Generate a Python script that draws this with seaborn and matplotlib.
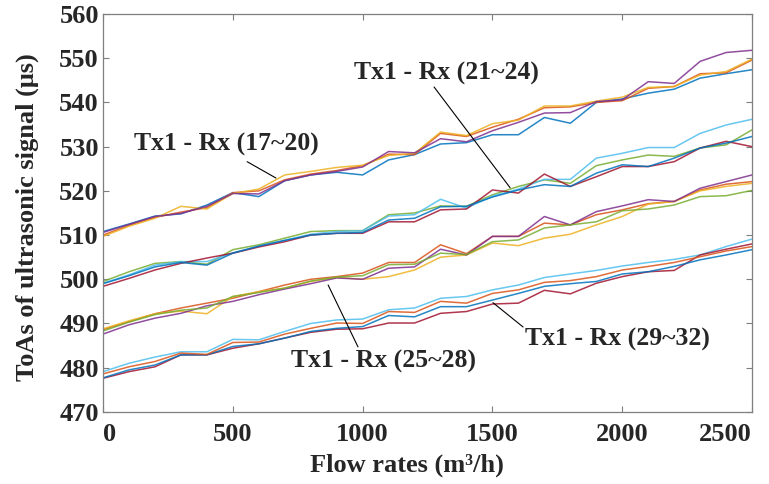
import numpy as np
import pandas as pd
import seaborn as sns
import matplotlib
matplotlib.use("Agg")
import matplotlib.pyplot as plt

# flow rates (m3/h)
flow = list(range(0, 2600, 100))

# Tx1 - Rx (17~20)
rx17 = [510.8, 512.5, 514.3, 514.8, 516.8, 519.6, 518.7, 522.3, 523.6, 524.2, 523.6, 527.0, 528.2,
        530.6, 530.9, 532.7, 532.7, 536.6, 535.3, 540.0, 540.8, 542.1, 543.0, 545.5, 546.5, 547.4]
rx18 = [510.0, 512.2, 514.0, 515.2, 516.2, 519.6, 520.0, 522.5, 523.8, 524.6, 525.7, 528.3, 528.2,
        533.0, 532.3, 534.4, 536.2, 538.8, 539.0, 540.0, 540.4, 543.2, 543.6, 546.5, 546.7, 549.6]
rx19 = [509.7, 512.0, 513.8, 516.5, 515.9, 519.4, 520.4, 523.6, 524.4, 525.3, 525.8, 528.0, 528.5,
        533.3, 532.5, 535.2, 536.0, 539.2, 539.2, 540.3, 541.2, 543.4, 543.6, 546.2, 547.0, 549.8]
rx20 = [510.6, 512.4, 514.2, 514.9, 516.5, 519.4, 519.3, 522.3, 523.6, 524.4, 525.4, 528.9, 528.6,
        531.8, 531.1, 533.6, 535.5, 537.6, 537.7, 540.2, 540.6, 544.7, 544.3, 549.3, 551.3, 551.8]

# Tx1 - Rx (21~24)
rx21 = [499.5, 501.7, 503.6, 504.0, 503.4, 506.7, 507.8, 509.3, 510.8, 511.0, 511.0, 514.6, 515.0,
        516.6, 516.5, 519.1, 521.0, 522.5, 521.7, 525.7, 527.0, 528.1, 527.8, 529.7, 530.4, 533.8]
rx22 = [499.1, 501.0, 503.2, 504.0, 504.0, 506.0, 507.5, 508.8, 510.2, 510.8, 511.0, 514.3, 514.6,
        518.1, 516.1, 518.8, 520.4, 522.6, 522.6, 527.4, 528.5, 529.8, 529.8, 533.0, 534.9, 536.2]
rx23 = [498.4, 500.2, 502.1, 503.6, 504.8, 505.9, 507.3, 508.5, 510.0, 510.4, 510.4, 513.0, 513.0,
        515.7, 515.9, 520.2, 519.5, 523.8, 521.0, 523.2, 525.5, 525.5, 526.6, 529.7, 531.2, 530.0]
rx24 = [499.0, 500.8, 502.8, 503.8, 503.2, 505.9, 507.5, 508.8, 510.0, 510.4, 510.6, 513.4, 513.8,
        516.4, 516.5, 518.6, 520.2, 521.4, 521.0, 524.0, 525.9, 525.5, 527.4, 529.7, 530.8, 532.3]

# Tx1 - Rx (25~28)
rx25 = [488.6, 490.4, 492.2, 493.5, 494.6, 495.7, 497.2, 498.7, 500.0, 500.6, 501.4, 503.8, 503.8,
        507.8, 505.8, 509.7, 509.7, 512.7, 512.3, 514.6, 515.7, 517.1, 517.6, 520.2, 521.5, 522.1]
rx26 = [488.8, 490.6, 492.2, 492.8, 492.2, 496.1, 497.2, 498.0, 499.5, 500.4, 500.0, 500.6, 502.1,
        505.0, 505.5, 508.2, 507.6, 509.3, 510.2, 512.3, 514.2, 517.0, 517.6, 520.0, 521.0, 521.7]
rx27 = [487.6, 489.7, 491.2, 492.3, 494.0, 495.0, 496.5, 497.8, 499.0, 500.3, 500.0, 502.5, 502.8,
        506.8, 505.5, 509.7, 509.7, 514.2, 512.3, 515.3, 516.6, 518.0, 517.6, 520.6, 522.1, 523.6]
rx28 = [488.3, 490.3, 492.0, 493.0, 493.5, 496.1, 497.0, 498.0, 499.6, 500.5, 500.8, 503.3, 503.4,
        505.9, 505.6, 508.5, 508.9, 511.6, 512.3, 513.0, 515.5, 515.9, 516.8, 518.7, 518.9, 520.1]

# Tx1 - Rx (29~32)
rx29 = [479.1, 481.0, 482.4, 483.6, 483.6, 486.4, 486.3, 488.2, 490.0, 490.8, 491.0, 493.1, 493.5,
        495.7, 496.1, 497.6, 498.7, 500.4, 501.2, 502.0, 503.0, 503.8, 504.5, 505.5, 507.4, 509.1]
rx30 = [477.6, 479.1, 480.2, 482.9, 482.9, 484.4, 485.4, 486.7, 488.0, 488.7, 488.8, 490.1, 490.1,
        492.3, 492.7, 494.4, 494.6, 497.5, 496.7, 499.1, 500.6, 501.7, 502.0, 505.5, 506.8, 508.0]
rx31 = [477.7, 479.5, 480.6, 482.9, 482.9, 484.8, 485.4, 486.7, 488.2, 488.9, 489.3, 491.8, 491.5,
        493.8, 493.8, 495.3, 496.8, 498.4, 499.0, 499.5, 501.2, 501.7, 502.9, 504.4, 505.5, 506.7]
rx32 = [478.6, 480.2, 481.4, 483.3, 483.0, 485.7, 485.8, 487.6, 488.9, 490.1, 490.0, 492.7, 492.5,
        495.0, 494.6, 496.8, 497.6, 499.3, 499.7, 500.6, 502.1, 502.9, 503.8, 505.1, 506.4, 507.4]

series = {"Rx17": rx17, "Rx18": rx18, "Rx19": rx19, "Rx20": rx20,
          "Rx21": rx21, "Rx22": rx22, "Rx23": rx23, "Rx24": rx24,
          "Rx25": rx25, "Rx26": rx26, "Rx27": rx27, "Rx28": rx28,
          "Rx29": rx29, "Rx30": rx30, "Rx31": rx31, "Rx32": rx32}

rows = []
for name, vals in series.items():
    for f, v in zip(flow, vals):
        rows.append({"rx": name, "flow": f, "toa": v})
df = pd.DataFrame(rows)

# matlab default colour order, cycled over the 16 lines
matlab = ["#0072BD", "#D95319", "#EDB120", "#7E2F8E", "#77AC30", "#4DBEEE", "#A2142F"]
palette = [matlab[i % 7] for i in range(len(series))]

sns.set_style("ticks")
plt.rcParams["font.family"] = ["Liberation Serif", "DejaVu Serif"]
plt.rcParams["font.weight"] = "bold"

fig = plt.figure(figsize=(7.69, 4.84), dpi=100)
ax = fig.add_axes([0.134, 0.149, 0.844, 0.822])

sns.lineplot(data=df, x="flow", y="toa", hue="rx", palette=palette, linewidth=1.1,
             alpha=0.85, legend=False, ax=ax)

ax.set_xlim(0, 2500)
ax.set_ylim(470, 560)
ax.set_xticks([0, 500, 1000, 1500, 2000, 2500])
ax.set_yticks(range(470, 561, 10))
ax.tick_params(direction="in", top=True, right=True, length=4, width=0.8,
               color="#7f7f7f", labelsize=19)
ax.tick_params(axis="x", pad=8)
ax.tick_params(axis="y", pad=3)
for lab in ax.get_xticklabels() + ax.get_yticklabels():
    lab.set_fontweight("bold")
ax.get_xticklabels()[0].set_horizontalalignment("left")
ax.get_xticklabels()[-1].set_horizontalalignment("right")
for sp in ax.spines.values():
    sp.set_visible(True)
    sp.set_color("#7f7f7f")
    sp.set_linewidth(0.9)

ax.set_xlabel("Flow rates (m\u00b3/h)", fontsize=19, fontweight="bold", va="center")
ax.set_ylabel("ToAs of ultrasonic signal (\u03bcs)", fontsize=19, fontweight="bold", va="center")
ax.xaxis.set_label_coords(0.468, -0.133)
ax.yaxis.set_label_coords(-0.117, 0.49)

labels = [("Tx1 - Rx (17~20)", (474, 530.4), (555, 526.6), (666, 522.9)),
          ("Tx1 - Rx (21~24)", (1321, 546.5), (1275, 543.5), (1568, 520.7)),
          ("Tx1 - Rx (25~28)", (1082, 481.3), (867, 498.7), (982, 484.7)),
          ("Tx1 - Rx (29~32)", (1980, 486.3), (1502, 494.7), (1618, 489.2))]
for txt, pos, p0, p1 in labels:
    ax.text(pos[0], pos[1], txt, fontsize=18.5, fontweight="bold", ha="center", va="center")
    ax.annotate("", xy=p1, xytext=p0,
                arrowprops=dict(arrowstyle="-", color="black", lw=0.8, shrinkA=0, shrinkB=0))

fig.savefig("out.png", dpi=100)
